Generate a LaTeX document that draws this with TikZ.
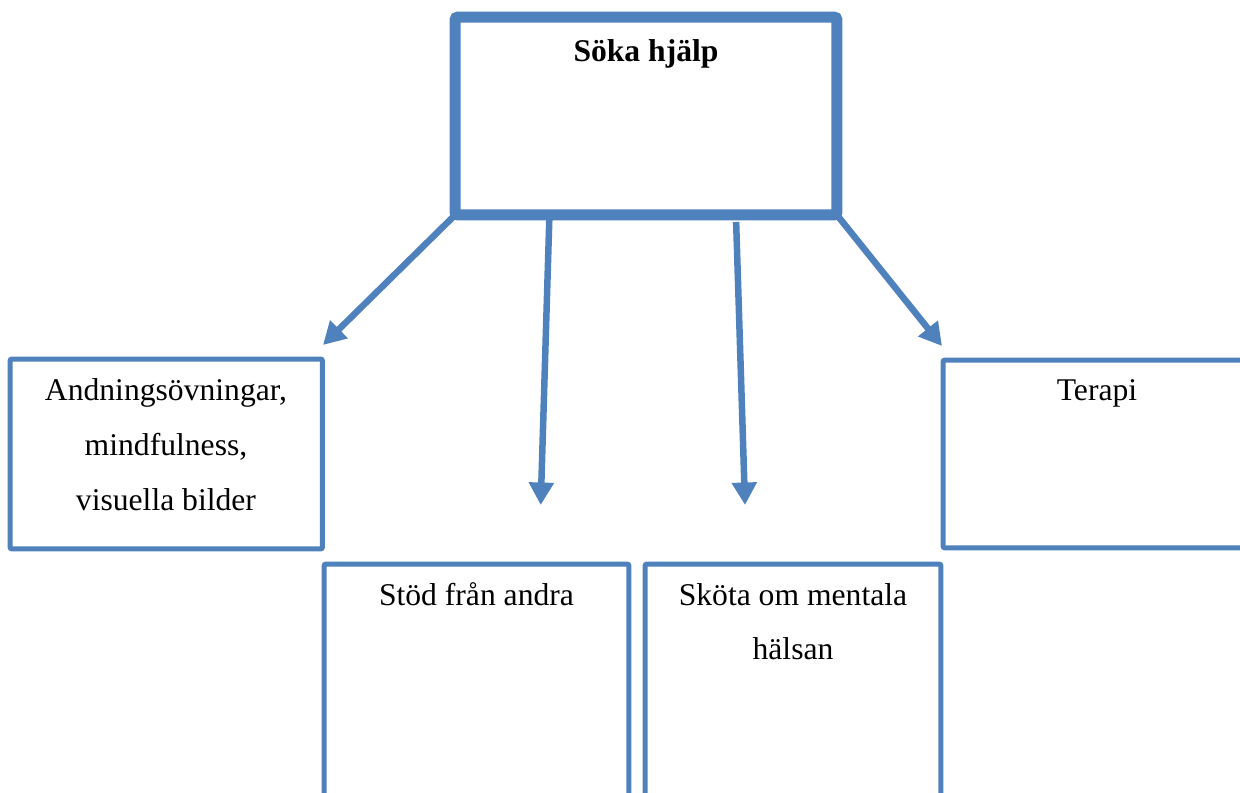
\documentclass[tikz,border=0pt]{standalone}
\usepackage{fontspec}
\setmainfont{Liberation Serif}
\usetikzlibrary{arrows.meta,calc}
\definecolor{boxblue}{RGB}{79,129,189}
\begin{document}
\begin{tikzpicture}[x=0.02cm,y=-0.02cm,
  thickbox/.style={draw=boxblue,line width=0.22cm,rounded corners=0.06cm,
    outer sep=0pt,inner sep=0pt},
  thinbox/.style={draw=boxblue,line width=0.1cm,rounded corners=0.04cm,
    outer sep=0pt,inner sep=0pt},
  boxtext/.style={font=\fontsize{18}{31.2}\selectfont,align=flush center,
    anchor=base,inner sep=0pt,text width=6cm},
  link/.style={draw=boxblue,line width=0.13cm,
    -{Triangle[length=0.45cm,width=0.48cm]}}]
\clip (0,0) rectangle (1240,793);

% boxes
\node[thickbox,minimum width=7.64cm,minimum height=3.96cm] (help) at (646,116) {};
\node[thinbox,minimum width=6.25cm,minimum height=3.8cm] (breath) at (166.25,454) {};
\node[thinbox,minimum width=6.18cm,minimum height=3.76cm] (therapy) at (1097.5,454) {};
\node[thinbox,minimum width=6.1cm,minimum height=5.32cm] (support) at (476.5,697) {};
\node[thinbox,minimum width=5.92cm,minimum height=5.32cm] (mental) at (793,697) {};

% labels
\node[font=\fontsize{18}{31.2}\selectfont\bfseries,anchor=base,inner sep=0pt]
  (helptext) at (646,62) {Söka hjälp};
\node[boxtext] (breathtext) at (166,401) {Andningsövningar,\\mindfulness,\\visuella bilder};
\node[boxtext] (therapytext) at (1097,401) {Terapi};
\node[boxtext] (supporttext) at (476.5,605) {Stöd från andra};
\node[boxtext] (mentaltext) at (793,605) {Sköta om mentala\\hälsan};

% arrow tips
\coordinate (t1) at (323,345);
\coordinate (t2) at (540.7,505);
\coordinate (t3) at (745,505);
\coordinate (t4) at (942,346);

% connectors
\draw[link] (help.south west) -- (t1);
\draw[link] ($(help.south west)!0.247!(help.south east)+(0,2)$) -- (t2);
\draw[link] ($(help.south west)!0.736!(help.south east)+(0,7)$) -- (t3);
\draw[link] (help.south east) -- (t4);
\end{tikzpicture}
\end{document}
